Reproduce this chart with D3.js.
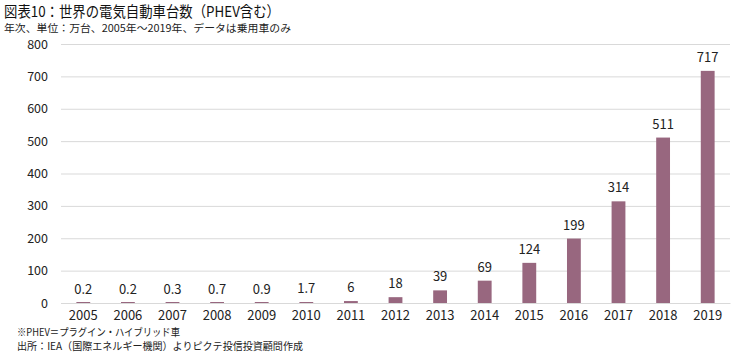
<!DOCTYPE html>
<html><head><meta charset="utf-8">
<script src="https://cdn.jsdelivr.net/npm/d3@7"></script>
<style>
body{margin:0;background:#fff;}
svg{display:block;}
text{font-family:"Noto Sans CJK JP","Noto Sans",sans-serif;}
</style></head>
<body>
<svg id="c" width="750" height="359"></svg>
<script>
const years = ["2005","2006","2007","2008","2009","2010","2011","2012","2013","2014","2015","2016","2017","2018","2019"];
const values = [0.2,0.2,0.3,0.7,0.9,1.7,6,18,39,69,124,199,314,511,717];
const valueLabels = ["0.2","0.2","0.3","0.7","0.9","1.7","6","18","39","69","124","199","314","511","717"];
const yTicks = [0,100,200,300,400,500,600,700,800];
const title = "図表10：世界の電気自動車台数（PHEV含む）";
const subtitle = "年次、単位：万台、2005年～2019年、データは乗用車のみ";
const notes = ["※PHEV＝プラグイン・ハイブリッド車","出所：IEA（国際エネルギー機関）よりピクテ投信投資顧問作成"];

const svg = d3.select("#c");
const x = d3.scaleBand().domain(years).range([61,730]).paddingInner(0.69).paddingOuter(0.345);
const y = d3.scaleLinear().domain([0,800]).range([303,44]);

// gridlines
svg.append("g").selectAll("line").data(yTicks).join("line")
  .attr("x1",61).attr("x2",730).attr("y1",d=>y(d)+0.5).attr("y2",d=>y(d)+0.5)
  .attr("stroke","#d9d9d9").attr("stroke-width",1);

// y axis labels
const ya = svg.append("g").attr("transform","translate(48,0)")
  .call(d3.axisLeft(y).tickValues(yTicks).tickSize(0).tickPadding(0));
ya.select(".domain").remove();
ya.selectAll("text").attr("font-size",12.5).attr("fill","#222").attr("font-family","Roboto,'Noto Sans',sans-serif");

// bars
svg.append("g").selectAll("rect").data(values).join("rect")
  .attr("x",(d,i)=>x(years[i])).attr("width",x.bandwidth())
  .attr("y",d=>Math.min(y(d),y(0)-1)).attr("height",d=>Math.max(y(0)-y(d),1))
  .attr("fill","#98677f");

// value labels
svg.append("g").selectAll("text").data(values).join("text")
  .attr("x",(d,i)=>x(years[i])+x.bandwidth()/2)
  .attr("y",d=>y(d)-9)
  .attr("text-anchor","middle").attr("font-size",13).attr("fill","#222")
  .attr("font-family","Roboto,'Noto Sans',sans-serif")
  .text((d,i)=>valueLabels[i]);

// x axis
const xa = svg.append("g").attr("transform","translate(0,303)")
  .call(d3.axisBottom(x).tickSize(0).tickPadding(8));
xa.select(".domain").attr("stroke","#d9d9d9");
xa.selectAll("text").attr("font-size",13).attr("fill","#222").attr("font-family","Roboto,'Noto Sans',sans-serif");

function fitText(t, x0, yb, size, len, col){
  svg.append("text").attr("x",x0).attr("y",yb).attr("font-size",size).attr("fill",col)
    .attr("textLength",len).attr("lengthAdjust","spacingAndGlyphs").text(t);
}
fitText(title, 4, 17, 15, 276, "#111");
fitText(subtitle, 4, 32, 10.5, 287, "#222");
fitText(notes[0], 17, 336, 10.5, 163, "#222");
fitText(notes[1], 17, 350, 10.5, 286, "#222");
</script>
</body></html>
